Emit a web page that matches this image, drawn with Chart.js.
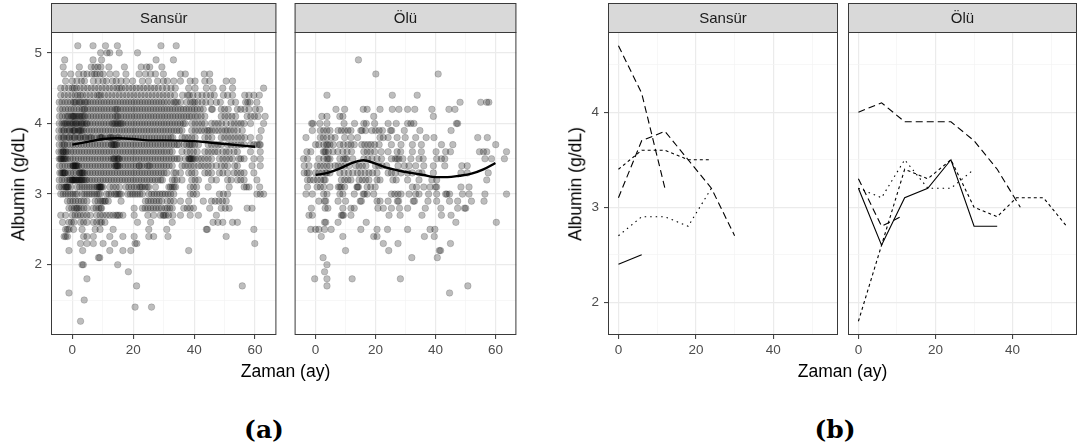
<!DOCTYPE html>
<html lang="tr">
<head>
<meta charset="utf-8">
<title>Albumin - Zaman</title>
<script src="https://cdn.jsdelivr.net/npm/chart.js@4.4.1/dist/chart.umd.min.js"></script>
<style>
  body { margin: 0; background: #fff; }
  #sahne { position: relative; width: 1078px; height: 443px; overflow: hidden; font-family: "Liberation Sans", Arial, sans-serif; }
  #sahne canvas { position: absolute; top: 0; }
  .baslik { position: absolute; font-size: 17.5px; line-height: 1; color: #000; white-space: nowrap; }
  .xbaslik { top: 363px; transform: translateX(-50%); }
  .ybaslik { top: 183.5px; transform: translate(-50%, -50%) rotate(-90deg); }
  .alt { position: absolute; top: 417px; font-family: "DejaVu Serif", serif; font-weight: bold; font-size: 25px; line-height: 1; transform: translateX(-50%); }
</style>
</head>
<body>
<div id="sahne">
  <canvas id="aSansur" width="281" height="365" style="left:0px"></canvas>
  <canvas id="aOlu" width="231" height="365" style="left:290px"></canvas>
  <canvas id="bSansur" width="262" height="365" style="left:577px"></canvas>
  <canvas id="bOlu" width="231" height="365" style="left:847px"></canvas>

  <div class="baslik ybaslik" style="left:19px">Albumin (g/dL)</div>
  <div class="baslik xbaslik" style="left:285.5px">Zaman (ay)</div>
  <div class="baslik ybaslik" style="left:576px">Albumin (g/dL)</div>
  <div class="baslik xbaslik" style="left:842.5px">Zaman (ay)</div>
  <div class="alt" style="left:264px">(a)</div>
  <div class="alt" style="left:835px">(b)</div>
</div>

<script>
// (a) her albumin düzeyindeki ölçümlerin zamanları (ay)
const sansurAlbumin = [5.1, 5.0, 4.9, 4.8, 4.7, 4.6, 4.5, 4.4, 4.3, 4.2, 4.1, 4.0, 3.9, 3.8, 3.7, 3.6, 3.5, 3.4, 3.3, 3.2,
  3.1, 3.0, 2.9, 2.8, 2.7, 2.6, 2.5, 2.4, 2.3, 2.2, 2.1, 2.0, 1.9, 1.8, 1.7, 1.6, 1.5, 1.4, 1.2];
const sansurZaman = [
  [1.8, 6.8, 10.9, 14.8, 29.1, 34.1],
  [9.3, 11.4, 12.3, 15.4, 21.4],
  [-2.5, 6.8, 9.6, 27.5, 33.2],
  [-3, 2.3, 6.2, 7.4, 8.4, 9.4, 12, 17.1, 22.6, 24.4, 25.4, 29.4],
  [-2.7, -0.5, 2.1, 3.7, 4.8, 6.4, 7.3, 8, 9.1, 10.1, 12.3, 14.4, 17.6, 21.9, 24, 25.7, 27.3, 29.9, 35.5, 37.1, 43.3, 45.1],
  [-2.2, 0, 1.5, 3, 4, 6.9, 8.5, 10.1, 11.2, 13.2, 14.4, 16, 17.7, 19.8, 23, 25, 28, 29.9, 31.2, 33.3, 35.5, 38.7, 40.3, 43.5, 45.1, 50.5, 52.6],
  [-3.8, -2.5, -1.2, 0, 0.6, 1.4, 2.6, 3.8, 5, 6.2, 7.4, 8.6, 9.8, 11, 12.2, 13.4, 14.6, 15.4, 16.2, 17.4, 18.6, 19.8, 21, 22.2, 23.4,
    24.6, 25.8, 27, 28.2, 29.6, 31, 32.4, 33.8, 38.2, 40.3, 44, 46.2, 49.4, 52.6, 62.8],
  [-3.8, -2.6, -1.4, -0.2, 1, 1.8, 2.6, 3.4, 4.6, 5.8, 7, 8.2, 8.8, 9.4, 10.6, 11.8, 13, 14.2, 15.4, 16.6, 17.8, 19, 20.2, 21.4, 22.6,
    23.8, 25, 26.2, 27.4, 28.6, 29.8, 31, 32.2, 33.6, 36.2, 37.8, 38.4, 39.6, 41.2, 42.6, 44, 45.4, 46.6, 49.6, 51, 52.6, 56.6, 58, 59.6, 61.4],
  [-4.3, -3.4, -2.4, -1.5, -0.5, 0.4, 0.8, 1.3, 2.2, 2.6, 3.1, 4, 4.4, 5, 5.9, 6.8, 7.7, 8.6, 9.5, 10.4, 11.3, 12.2, 13.1, 14, 14.9,
    15.8, 16.7, 17.6, 18.5, 19.4, 20.3, 21.2, 22.1, 23, 23.9, 24.8, 25.7, 26.6, 27.5, 28.4, 29.3, 30.2, 31.2, 32.3, 33.4, 33.9, 34.5,
    35.6, 37.6, 38.8, 39.6, 40.2, 41.2, 42.6, 43.8, 45.4, 47.3, 48.6, 52.1, 53.6, 56.9, 57.6, 58.3, 60.6],
  [-4.1, -3.2, -2.2, -1.3, -0.4, 0.5, 1.4, 2.3, 3.2, 3.8, 4.1, 5, 5.9, 6.8, 7.7, 8.6, 9.5, 10.4, 11.3, 12.2, 13.1, 14, 14.5, 14.9,
    15.8, 16.7, 17.6, 18.5, 19.4, 20.3, 21.2, 22.1, 23, 23.9, 24.8, 25.7, 26.6, 27.5, 28.4, 29.3, 30.2, 31.1, 32, 32.9, 33.8, 34.7,
    35.6, 36.5, 37.4, 38.3, 39.2, 40.1, 41, 42, 43, 45.7, 46, 48.9, 50, 51.2, 54.2, 55.3, 56.6, 58, 60.1, 61.5],
  [-4.2, -3.3, -2.3, -1.6, -1.2, -0.4, 0, 0.3, 0.6, 1, 1.5, 2, 2.4, 2.9, 3.3, 3.8, 4.2, 5.1, 6, 6.9, 7.8, 8.7, 9.6, 10.5, 11.4, 12.3, 13.2,
    14.1, 14.6, 15, 15.9, 16.8, 17.7, 18.6, 19.5, 20.4, 21.3, 22.2, 23.1, 24, 24.9, 25.8, 26.7, 27.6, 28.5, 29.4, 30.3, 31.2, 32.1, 33,
    33.9, 34.8, 35.7, 36.6, 37.5, 38.4, 39.2, 40.3, 41.2, 42.3, 43.5, 48.9, 50.1, 51.2, 52.4, 53.6, 57.4, 58.6, 59.8, 61, 63.3],
  [-4.3, -3.4, -2.8, -2.4, -2, -1.5, -0.9, -0.5, 0, 0.4, 1, 1.3, 1.6, 2.2, 2.8, 3.1, 3.5, 4, 4.6, 4.9, 5.8, 6.7, 7.6, 8.5, 9.4, 10.3,
    11.2, 12.1, 13, 13.4, 13.9, 14.3, 14.8, 15.2, 15.7, 16.1, 16.6, 17.5, 18.4, 19.3, 20.2, 21.1, 22, 22.9, 23.8, 24.7, 25.6, 26.5,
    27.4, 28.3, 29.2, 30.1, 31, 31.9, 32.8, 33.7, 34.6, 35.5, 36.4, 37, 39.2, 40.3, 41.4, 42.5, 43.5, 45.7, 46.8, 47.9, 49, 50.5,
    52.1, 53.2, 54.3, 55.4, 56.4, 58.5, 62.8],
  [-4.4, -3.5, -2.9, -2.6, -1.7, -1.1, -0.8, 0.1, 0.4, 0.7, 1, 1.9, 2.2, 2.5, 2.8, 3.2, 3.7, 4.6, 5.5, 6.4, 7.3, 8.2, 9.1, 10, 10.9,
    11.8, 12.7, 13.6, 14.5, 15.4, 16.3, 17.2, 18.1, 19, 19.9, 20.8, 21.7, 22.6, 23.5, 24.4, 25.3, 26.2, 27.1, 28, 28.9, 29.8, 30.7,
    31.6, 32.5, 33.4, 34.3, 35.2, 36, 39.2, 40.3, 41.4, 42.4, 43.5, 44.4, 44.9, 45.8, 46.9, 48, 49.1, 50.2, 51, 52, 53.1, 54.2, 55.8, 62],
  [-4.5, -3.6, -3, -2.7, -1.8, -1.2, -0.9, 0, 0.6, 0.9, 1.8, 2.4, 2.7, 3.6, 4.2, 4.5, 5.4, 6, 6.3, 7.2, 8.1, 9, 9.3, 9.6, 9.9, 10.8,
    11.7, 12.3, 12.6, 13, 13.5, 14.4, 15, 15.3, 16.2, 17.1, 18, 18.9, 19.8, 20.7, 21.6, 22.5, 23.4, 24.3, 25.2, 26.1, 27, 27.9, 28.8,
    29.7, 30.6, 31.5, 32.4, 33, 36, 37, 38.1, 39.2, 40.3, 43.5, 44.6, 45.8, 48.9, 50, 51.1, 52.2, 53.3, 54.4, 55.5, 56.6, 58.5, 61.4],
  [-4.3, -3.4, -2.8, -2.5, -1.6, -0.7, 0.2, 1.1, 2, 2.9, 3.8, 4.7, 5.6, 6.5, 7.4, 8.3, 9.2, 10.1, 11, 11.9, 12.8, 13, 13.4, 13.7,
    14, 14.3, 14.6, 15.5, 16.4, 17.3, 18.2, 19.1, 20, 20.9, 21.8, 22.7, 23.6, 24.5, 25.4, 26.3, 27.2, 28.1, 29, 29.9, 30.8, 31.7,
    32.6, 33.5, 34.4, 35, 36.6, 37.5, 38.4, 38.8, 39.3, 40.2, 41.4, 44.6, 45.7, 46.8, 47.9, 48.9, 51, 52.1, 53.2, 54.3, 55.4, 56.4,
    58.5, 59.6, 60.7, 61.4, 61.7],
  [-4.4, -3.7, -3.2, -3, -2.8, -2.3, -2, -1.4, -0.5, 0.4, 1.3, 2.2, 3.1, 4, 4.9, 5.8, 6.7, 7.6, 8.5, 9.4, 10.3, 11.2, 12.1, 13, 13.9,
    14.8, 15.7, 16.6, 17.5, 18.4, 19.3, 20.2, 21.1, 22, 22.9, 23.8, 24.7, 25.6, 26.5, 27.4, 28.3, 29.2, 30.1, 31, 32, 32.8, 36, 37.6,
    38.7, 39.8, 41, 43.5, 44.6, 45.7, 46.8, 47.8, 49.4, 50.5, 51.5, 53.1, 54.2, 58.5, 61.7],
  [-4.3, -3.9, -3.7, -3.4, -3, -2.8, -2.5, -2.1, -1.6, -0.7, 0.2, 1.1, 2, 2.9, 3.8, 4.7, 5.6, 6.5, 7.4, 8.3, 9.2, 10.1, 11, 11.9,
    12.8, 13.4, 13.7, 14, 14.6, 15, 15.2, 15.5, 16.4, 17.3, 18.2, 19.1, 20, 20.9, 21.8, 22.7, 23.6, 24.5, 25.4, 26.3, 27.2, 28.1, 29,
    29.9, 30.8, 31.7, 32.6, 33.5, 34.4, 35.2, 37.1, 38.2, 38.4, 38.7, 39, 39.2, 39.7, 40.3, 41.4, 42.4, 43.5, 44.6, 45.7, 48.3, 49.4,
    50.5, 51.6, 52.6, 54.7, 55.3, 56.4, 59.6, 61.7],
  [-4.2, -3.3, -2.4, -1.5, -0.6, 0.1, 0.3, 0.5, 0.8, 1, 1.2, 1.5, 1.7, 2.1, 3, 3.9, 4.8, 5.7, 6.6, 7.5, 8.4, 9.3, 10.2, 11.1, 12,
    12.9, 13.8, 14.2, 14.4, 14.7, 14.9, 15.1, 15.6, 16.5, 17.4, 18.3, 19.2, 20.1, 21, 21.9, 22, 22.8, 23.7, 24.6, 25.1, 25.5, 26.4,
    27.3, 28.2, 29.1, 30, 30.9, 31.8, 32.8, 36, 37, 38, 39, 40, 41.4, 42.4, 43.5, 44.6, 45.7, 47.3, 48.9, 50, 51, 53.3, 54.2, 59, 61.7],
  [-4.1, -3.6, -3.2, -3, -2.7, -2.5, -2.3, -1.4, -0.5, 0.4, 1.3, 2.2, 2.5, 2.7, 3.1, 3.3, 3.6, 4, 4.9, 5.8, 6.7, 7.6, 8.5, 9.4, 10.3,
    11.2, 12.1, 13, 13.9, 14.8, 15.7, 16.6, 17.5, 18.4, 19.3, 20.2, 21.1, 22, 22.9, 23.8, 24.7, 25.6, 26.5, 27.4, 28.3, 29.2, 30.1,
    31, 33.3, 34, 35.5, 38.2, 39.2, 40.3, 43.5, 44.6, 45.7, 48.3, 49.4, 51, 53.1, 54.2, 55.3, 56.4, 59.6],
  [-4.3, -3.4, -2.5, -1.6, -1, -0.7, -0.2, 0, 0.2, 0.5, 0.7, 1.1, 1.3, 1.6, 2, 2.3, 2.5, 2.9, 3.1, 3.4, 3.8, 4.3, 4.7, 5.6, 6.5, 7.4,
    8.3, 9.2, 10.1, 11, 11.9, 12.8, 13.7, 14.6, 15.5, 16.4, 17.3, 18.2, 19.1, 20, 20.9, 21.8, 22.7, 23.6, 24.5, 25.4, 26.3, 27.2,
    28.1, 29, 29.6, 32.8, 33.6, 34.4, 36, 39.2, 40.3, 41.4, 45.7, 47.3, 51, 52.1, 54.2, 55.3, 56.4, 60.6],
  [-4.3, -3.5, -2.7, -2.2, -2, -1.8, -1.5, -1.3, -0.5, 1.6, 2.4, 3.2, 4, 4.8, 5.6, 6.4, 7.2, 8, 8.4, 8.8, 9, 9.2, 9.4, 9.6, 10.1,
    12.3, 13.4, 14.4, 15.5, 17.6, 18.5, 19.4, 20.3, 21.2, 22.1, 22.5, 23, 23.9, 24.6, 25.1, 27.3, 31.7, 32.2, 32.8, 33.4, 33.9, 38.7,
    39.8, 40.8, 44.6, 51.5, 56.4, 57.2, 58, 61.5],
  [-3.8, -3, -2.2, -1.4, -0.6, 0.2, 1, 1.6, 3.2, 4, 4.8, 5.6, 6.4, 7.2, 8, 8.6, 9.1, 11.2, 12, 12.8, 13.9, 14.4, 15, 15.5, 16, 18.2,
    19, 19.8, 20.6, 21.4, 22.2, 23, 25.1, 26, 26.9, 27.8, 28.7, 29.6, 30.5, 31.4, 32.3, 33.3, 38.7, 39.7, 40.8, 48.3, 49.6, 51, 60.6, 61.7, 62.8],
  [-1.6, -0.7, 0.2, 1.1, 2, 2.9, 3.8, 4.8, 7.5, 8.4, 9.3, 9.9, 10.5, 10.9, 11.8, 16, 24, 24.9, 25.8, 26.7, 27.6, 28.5, 29.4, 31.2,
    32.2, 33.3, 35.5, 38.2, 43, 45.7, 46.9, 48.1, 49.3, 50.5],
  [-1.1, -0.2, 0.7, 1.3, 1.6, 2.1, 2.9, 3.8, 4.8, 6.9, 7.8, 8.7, 9.3, 9.6, 20.3, 23, 23.9, 24.8, 25.7, 26.6, 27.5, 28.4, 29.3, 30.5,
    31.2, 32, 32.8, 36.6, 37.7, 38.7, 39.8, 45.1, 48.9, 50.2, 51.5, 57.4, 59],
  [-3.8, -2.2, 0, 0.9, 1.8, 2.7, 3.7, 4.8, 5.9, 8, 9.1, 10.1, 11.2, 12.3, 13.4, 14.4, 14.9, 15.5, 16.6, 20.3, 24.8, 26.7, 28.9, 29.8,
    30.1, 30.7, 31.6, 33, 35.5, 38.7, 41.4, 47.3],
  [-3.2, -1.1, -0.3, 0.5, 2.7, 3.7, 4.8, 6.9, 8, 9.1, 9.6, 10.7, 21.4, 25.7, 32.8, 46.2, 47.8, 49.4, 52.6, 54.2],
  [-2.2, -1.6, -1.1, 0.4, 3.2, 7.5, 9.1, 13.4, 25.1, 31, 44, 44.3, 59.6],
  [-2.7, -2.2, -1.6, 3.7, 4.8, 6.9, 12.3, 16.6, 20.3, 25.1, 26.7, 31.4, 50.5],
  [2.7, 4.8, 6.9, 10.1, 13.9, 20.6, 21.2, 59.9],
  [-1.1, 3.4, 12.3, 16.6, 19.2, 38.2],
  [8.6, 9],
  [3.2, 3.6, 14.9],
  [18.4],
  [4.8],
  [21.1, 55.8],
  [-1.1],
  [3.9],
  [20.6, 26],
  [2.7]
];

const oluAlbumin = [4.9, 4.7, 4.4, 4.3, 4.2, 4.1, 4.0, 3.9, 3.8, 3.7, 3.6, 3.5, 3.4, 3.3, 3.2, 3.1, 3.0, 2.9, 2.8, 2.7,
  2.6, 2.5, 2.4, 2.3, 2.2, 2.1, 2.0, 1.9, 1.8, 1.7, 1.6];
const oluZaman = [
  [14.3],
  [20.1, 40.9],
  [3.8, 25.6, 33.9],
  [48.2, 55.1, 57.1, 57.8],
  [6.8, 9.7, 15.9, 17.2, 21.5, 25.6, 27.8, 30.7, 33.1, 38.8, 44.5, 46.5],
  [2.1, 3.8, 8.1, 9.1, 19.4, 39.3],
  [-1.3, -0.9, 1.4, 3.8, 9.5, 13, 16.1, 16.9, 19.7, 24.2, 26.9, 30.7, 31.8, 32.8, 47, 47.4],
  [-1.1, 1.6, 2.7, 3.8, 4.8, 7.5, 8.6, 9.7, 10.8, 11.8, 15.1, 15.5, 16.7, 18.8, 20, 21.2, 22.3, 25, 25.4, 29.6, 34.8, 45.2],
  [-3.2, 1.6, 2.6, 3.8, 5.2, 6.5, 9.7, 11.8, 14, 21.5, 22.6, 24.2, 27.2, 29.9, 33.4, 36.9, 39.5, 54.1, 57.3],
  [0, 1.1, 2.7, 3.6, 4, 4.8, 5.9, 8.1, 9.3, 10.8, 11.8, 12.9, 15.4, 16.4, 17.5, 18.5, 19.7, 21.2, 25.3, 28.5, 32.3, 35.3, 42, 45.8, 60.1],
  [-2.9, -1.6, 2.6, 3, 3.4, 4.3, 5.8, 7.4, 9.1, 10.5, 12, 16.1, 17.2, 18.3, 19.7, 21.9, 24.2, 27.2, 28.4, 32.3, 35.3, 40.2, 43.4, 45,
    54.7, 56, 57.1, 63.7],
  [-4, -2.7, 1.1, 2.7, 3.8, 4.2, 4.8, 8.1, 9.3, 10, 10.4, 12.4, 16.1, 17.4, 18.8, 20.5, 22, 25.3, 26.6, 27.2, 27.8, 29.1, 31.8, 34.5,
    35.9, 40.4, 42, 43.1, 56.5, 58.7, 63],
  [-3.8, -2.2, 0.5, 1.6, 2.7, 3.8, 4.8, 6.5, 7.5, 8.6, 9.7, 11.2, 13.4, 14.5, 15.6, 16.8, 20, 21.1, 22.2, 23.7, 27.5, 29.6, 31.2,
    33.4, 36.1, 39.3, 43.1, 48.8, 50.6],
  [-3.8, -2.8, -2.2, 0, 1.1, 2.2, 3.3, 3.8, 4.8, 8.1, 9.5, 11, 12.4, 14, 15.1, 16.5, 17.8, 19, 20.5, 24.2, 25.3, 26.6, 28.5, 30.7,
    32.3, 34.5, 35.5, 39.3, 48.5, 50.6, 57.6],
  [-2.7, -1.8, -0.6, 0.6, 1.7, 2.8, 3.2, 8.6, 9.7, 10.8, 11.8, 14.5, 15.6, 16.7, 17.8, 20.5, 21.5, 25.8, 26.9, 30.7, 34.5, 38.8, 40.4, 57.1],
  [-2.7, 0.5, 1.6, 2.7, 4.8, 7.6, 8.1, 8.6, 9.7, 13.8, 14, 14.3, 17.2, 18.4, 19.9, 32.3, 33.7, 36.1, 38.2, 40, 40.4, 48.5, 51.2],
  [-3.2, -1.1, 2.7, 3.8, 8.1, 9.1, 12.9, 15.9, 16.3, 17.2, 19.4, 25.3, 26.4, 27.5, 28.5, 31.2, 33.4, 34.5, 37.7, 40.4, 43.4, 43.8,
    44.7, 49, 51.2, 56.5, 63.7],
  [1.1, 3, 3.4, 7.5, 10, 14.9, 15.3, 20.5, 21.5, 24.2, 27.3, 27.7, 32.6, 33, 37.5, 40.4, 44.7, 47.4, 52, 56.2],
  [-1.4, 3.2, 4.1, 9.1, 11.8, 12.9, 20.8, 22.6, 25.3, 28, 30.7, 36.6, 41.8, 47.4, 49.7, 50.1],
  [-2.2, -1.1, 8.6, 9, 9.3, 11.8, 24.5, 28.2, 35.5, 42, 45.2],
  [3, 3.4, 7.5, 16.9, 46.8, 60.3],
  [-1.6, 0, 1.1, 3, 5.2, 15.1, 20.5, 24, 30.7, 38.2, 39.8],
  [1.9, 9.1, 19.4, 20.5, 36.3, 39.6],
  [22.6, 27.5, 45],
  [10, 24.4, 41.3, 41.7],
  [2.5, 32.1, 40.6],
  [3.8],
  [3],
  [-0.3, 3.8, 12.2, 28.3],
  [3.8, 50.8],
  [44.7]
];

// düzleştirilmiş eğriler
const sansurEgriZaman = [0, 5, 10, 15, 20, 25, 30, 40, 45, 50, 55, 60];
const sansurEgriAlbumin = [3.70, 3.74, 3.78, 3.79, 3.78, 3.76, 3.76, 3.75, 3.73, 3.71, 3.69, 3.67];
const oluEgriZaman = [0, 4, 8, 12, 16, 20, 24, 28, 32, 36, 40, 44, 48, 52, 56, 60];
const oluEgriAlbumin = [3.27, 3.30, 3.36, 3.44, 3.48, 3.43, 3.37, 3.33, 3.30, 3.27, 3.24, 3.24, 3.26, 3.29, 3.35, 3.44];

// (b) seçilmiş hastaların profilleri
const sansurHastaZaman = [[0, 6, 12], [0, 6, 12, 18, 24, 30], [0, 6, 12, 18, 24], [0, 6, 12, 18, 24], [0, 6]];
const sansurHastaAlbumin = [[4.7, 4.2, 3.2], [3.1, 3.7, 3.8, 3.5, 3.2, 2.7], [3.4, 3.6, 3.6, 3.5, 3.5], [2.7, 2.9, 2.9, 2.8, 3.2], [2.4, 2.5]];
const oluHastaZaman = [[0, 6, 12, 18, 24, 30, 36, 42], [0, 6, 12, 18, 24, 30, 36], [0, 6, 11], [0, 6, 12, 18, 24, 30],
  [0, 6, 12, 18, 24, 30, 36, 41, 48, 54]];
const oluHastaAlbumin = [[4.0, 4.1, 3.9, 3.9, 3.9, 3.7, 3.4, 3.0], [3.2, 2.6, 3.1, 3.2, 3.5, 2.8, 2.8], [3.3, 2.8, 2.9],
  [3.2, 3.1, 3.5, 3.2, 3.2, 3.4], [1.8, 2.6, 3.4, 3.3, 3.5, 3.0, 2.9, 3.1, 3.1, 2.8]];

// eksen etiketleri
const aXTik = [0, 20, 40, 60];
const aYTik = [2, 3, 4, 5];
const bXTik = [0, 20, 40];
const bYTik = [2, 3, 4];

// çizgi tipleri (hasta sırasıyla)
const sansurKesik = [[7, 4], [7, 4], [3, 3], [1.5, 4], []];
const oluKesik = [[7, 4], [], [7, 4], [1.5, 4], [3, 3]];

const panelUst = 32, panelAlt = 335, kanvasBoy = 365;
const noktaRengi = 'rgba(0,0,0,0.26)';

// gri şerit + panel çerçevesi
const seritEklentisi = {
  id: 'serit',
  afterDraw(chart, args, opts) {
    const { ctx, chartArea: a } = chart;
    ctx.save();
    ctx.fillStyle = '#d9d9d9';
    ctx.fillRect(a.left, 3, a.right - a.left, a.top - 3);
    ctx.strokeStyle = '#3a3a3a';
    ctx.lineWidth = 1;
    ctx.strokeRect(a.left + 0.5, 3.5, a.right - a.left - 1, a.top - 3);
    ctx.strokeRect(a.left + 0.5, a.top + 0.5, a.right - a.left - 1, a.bottom - a.top - 1);
    ctx.fillStyle = '#1a1a1a';
    ctx.font = '15px "Liberation Sans", Arial, sans-serif';
    ctx.textAlign = 'center';
    ctx.textBaseline = 'middle';
    ctx.fillText(opts.text, (a.left + a.right) / 2, (3 + a.top) / 2 + 1);
    ctx.restore();
  }
};

// ana tiklerin arasına ara ızgara çizgileri
function tikler(ana, min, max) {
  const adim = ana[1] - ana[0];
  const t = [];
  ana.forEach(v => { t.push(v - adim / 2); t.push(v); });
  t.push(ana[ana.length - 1] + adim / 2);
  return t.filter(v => v >= min && v <= max);
}

function izgara(ana, tikCiz) {
  const anaMi = c => c.tick && ana.includes(c.tick.value);
  return {
    color: c => anaMi(c) ? '#ebebeb' : '#f3f3f3',
    lineWidth: c => anaMi(c) ? 1.2 : 0.7,
    drawTicks: tikCiz,
    tickLength: 4,
    tickWidth: 1,
    tickColor: c => anaMi(c) ? '#333333' : 'rgba(0,0,0,0)'
  };
}

function facet(id, o) {
  const etiketFont = { family: 'Liberation Sans', size: 13.5 };
  return new Chart(document.getElementById(id), {
    type: 'scatter',
    data: { datasets: o.datasets },
    options: {
      responsive: false,
      animation: false,
      events: [],
      layout: { padding: { left: 1, right: 1, top: panelUst, bottom: 0 } },
      plugins: { legend: { display: false }, tooltip: { enabled: false }, serit: { text: o.serit } },
      scales: {
        x: {
          type: 'linear', min: o.xMin, max: o.xMax,
          afterBuildTicks: s => { s.ticks = tikler(o.xTik, o.xMin, o.xMax).map(v => ({ value: v })); },
          afterFit: s => { s.height = kanvasBoy - panelAlt; },
          border: { display: false },
          grid: izgara(o.xTik, true),
          ticks: {
            autoSkip: false, maxRotation: 0, padding: 3, color: '#4d4d4d', font: etiketFont,
            callback: v => o.xTik.includes(v) ? v : ''
          }
        },
        y: {
          type: 'linear', min: o.yMin, max: o.yMax,
          afterBuildTicks: s => { s.ticks = tikler(o.yTik, o.yMin, o.yMax).map(v => ({ value: v })); },
          afterFit: s => { s.width = o.eksen; },
          border: { display: false },
          grid: izgara(o.yTik, o.eksen > 0),
          ticks: {
            display: o.eksen > 0, padding: 5, color: '#4d4d4d', font: etiketFont,
            callback: v => o.yTik.includes(v) ? v : ''
          }
        }
      }
    },
    plugins: [seritEklentisi]
  });
}

function noktalar(duzeyler, zamanlar) {
  const d = [];
  duzeyler.forEach((y, i) => zamanlar[i].forEach(x => d.push({ x, y })));
  return d;
}
const ciftler = (xs, ys) => xs.map((x, i) => ({ x, y: ys[i] }));

function aVeri(duzey, zaman, egriX, egriY) {
  return [
    {
      data: ciftler(egriX, egriY), showLine: true, borderColor: '#000', borderWidth: 2.4,
      pointRadius: 0, cubicInterpolationMode: 'monotone', tension: 0.4
    },
    {
      data: noktalar(duzey, zaman), pointRadius: 3.3, backgroundColor: noktaRengi,
      borderColor: noktaRengi, borderWidth: 0.6
    }
  ];
}

function bVeri(zamanlar, albuminler, kesikler) {
  return zamanlar.map((z, i) => ({
    data: ciftler(z, albuminler[i]), showLine: true, borderColor: '#000', borderWidth: 1.1,
    borderDash: kesikler[i], pointRadius: 0, tension: 0
  }));
}

const aOrtak = { xMin: -7, xMax: 67, yMin: 1.005, yMax: 5.295, xTik: aXTik, yTik: aYTik };
const bOrtak = { xMin: -2.7, xMax: 56.7, yMin: 1.655, yMax: 4.845, xTik: bXTik, yTik: bYTik };

facet('aSansur', Object.assign({}, aOrtak, { eksen: 50, serit: 'Sansür',
  datasets: aVeri(sansurAlbumin, sansurZaman, sansurEgriZaman, sansurEgriAlbumin) }));
facet('aOlu', Object.assign({}, aOrtak, { eksen: 0, serit: 'Ölü',
  datasets: aVeri(oluAlbumin, oluZaman, oluEgriZaman, oluEgriAlbumin) }));
facet('bSansur', Object.assign({}, bOrtak, { eksen: 30, serit: 'Sansür',
  datasets: bVeri(sansurHastaZaman, sansurHastaAlbumin, sansurKesik) }));
facet('bOlu', Object.assign({}, bOrtak, { eksen: 0, serit: 'Ölü',
  datasets: bVeri(oluHastaZaman, oluHastaAlbumin, oluKesik) }));
</script>
</body>
</html>
